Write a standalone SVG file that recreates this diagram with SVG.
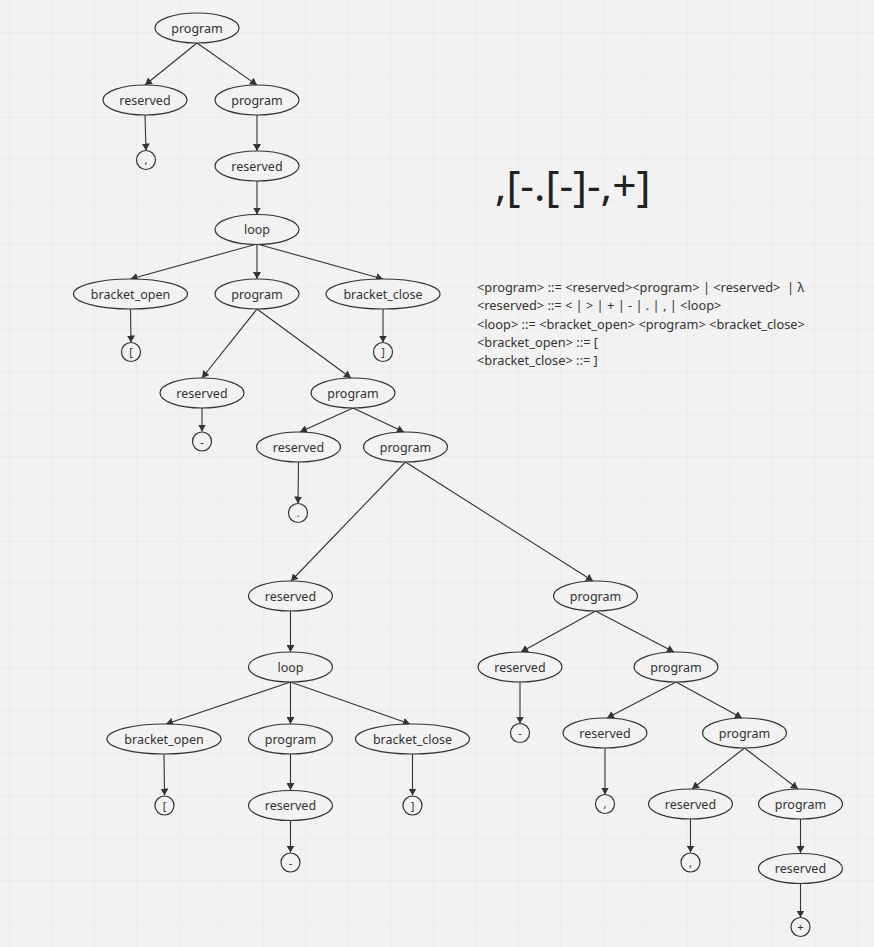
<svg xmlns="http://www.w3.org/2000/svg" width="874" height="947" viewBox="0 0 874 947">
<defs>
<pattern id="grid" x="8.8" y="32" width="42.4" height="42.4" patternUnits="userSpaceOnUse">
<path d="M0 0 V42.4 M0 0 H42.4" fill="none" stroke="#e4e4e4" stroke-width="1"/>
</pattern>
<marker id="arr" markerWidth="8" markerHeight="8" refX="7" refY="4" orient="auto" markerUnits="userSpaceOnUse">
<path d="M0 0 L7 4 L0 8 Z" fill="#333"/>
</marker>
<style>
.n ellipse,.n circle{fill:#f2f2f2;stroke:#333;stroke-width:1.2}
.n text{font-family:"Noto Sans","Open Sans",sans-serif;font-size:12.5px;fill:#333;text-anchor:middle}
.l text{font-size:11px}
#edges line{stroke:#333;stroke-width:1.1;marker-end:url(#arr)}
.t{font-family:"Noto Sans","Open Sans",sans-serif;fill:#222}
.g{font-family:"Noto Sans","Open Sans",sans-serif;font-size:12.8px;fill:#333;white-space:pre}
</style>
</defs>
<rect width="874" height="947" fill="#f2f2f2"/>
<rect width="874" height="947" fill="url(#grid)"/>
<g id="edges">
<line x1="197" y1="43" x2="145" y2="85"/>
<line x1="197" y1="43" x2="257" y2="85"/>
<line x1="145" y1="115" x2="146" y2="150.5"/>
<line x1="257" y1="115" x2="257" y2="151"/>
<line x1="257" y1="181" x2="257" y2="214.5"/>
<line x1="257" y1="244" x2="130.5" y2="279"/>
<line x1="257" y1="244" x2="257" y2="279"/>
<line x1="257" y1="244" x2="383" y2="279"/>
<line x1="130.5" y1="309" x2="131" y2="342.5"/>
<line x1="383" y1="309" x2="383" y2="342.5"/>
<line x1="257" y1="309" x2="202" y2="378"/>
<line x1="257" y1="309" x2="351" y2="378"/>
<line x1="202" y1="408" x2="202" y2="431.5"/>
<line x1="353" y1="408" x2="300" y2="432"/>
<line x1="353" y1="408" x2="404" y2="432"/>
<line x1="298.5" y1="462" x2="298" y2="503.5"/>
<line x1="405.5" y1="462" x2="291" y2="581"/>
<line x1="405.5" y1="462" x2="593" y2="581"/>
<line x1="290.5" y1="611" x2="290.5" y2="652"/>
<line x1="595.5" y1="611" x2="521" y2="652"/>
<line x1="595.5" y1="611" x2="674" y2="652"/>
<line x1="290.5" y1="682" x2="166" y2="724"/>
<line x1="290.5" y1="682" x2="290.5" y2="724"/>
<line x1="290.5" y1="682" x2="410" y2="724"/>
<line x1="164" y1="754" x2="164.5" y2="795.5"/>
<line x1="290.5" y1="754" x2="290.5" y2="790"/>
<line x1="412.5" y1="754" x2="412.5" y2="795.5"/>
<line x1="290.5" y1="820" x2="290.5" y2="852.5"/>
<line x1="520" y1="682" x2="520" y2="723.5"/>
<line x1="676" y1="682" x2="607" y2="718"/>
<line x1="676" y1="682" x2="742" y2="718"/>
<line x1="605" y1="748" x2="605" y2="794.5"/>
<line x1="744.5" y1="748" x2="692" y2="789"/>
<line x1="744.5" y1="748" x2="798" y2="789"/>
<line x1="690.5" y1="819" x2="690.5" y2="852.5"/>
<line x1="800.5" y1="819" x2="800.5" y2="853"/>
<line x1="800.5" y1="883" x2="800.5" y2="917.5"/>
</g>
<g id="n1" class="n"><ellipse cx="197" cy="28" rx="42" ry="15"/><text x="197" y="32.5">program</text></g>
<g id="n2" class="n"><ellipse cx="145" cy="100" rx="42" ry="15"/><text x="145" y="104.5">reserved</text></g>
<g id="n3" class="n"><ellipse cx="257" cy="100" rx="42" ry="15"/><text x="257" y="104.5">program</text></g>
<g id="n4" class="n l"><circle cx="146" cy="160" r="9.5"/><text x="146" y="164">,</text></g>
<g id="n5" class="n"><ellipse cx="257" cy="166" rx="42" ry="15"/><text x="257" y="170.5">reserved</text></g>
<g id="n6" class="n"><ellipse cx="257" cy="229.5" rx="42" ry="15"/><text x="257" y="234">loop</text></g>
<g id="n7" class="n"><ellipse cx="130.5" cy="294" rx="57" ry="15"/><text x="130.5" y="298.5">bracket_open</text></g>
<g id="n8" class="n"><ellipse cx="257" cy="294" rx="42" ry="15"/><text x="257" y="298.5">program</text></g>
<g id="n9" class="n"><ellipse cx="383" cy="294" rx="57" ry="15"/><text x="383" y="298.5">bracket_close</text></g>
<g id="n10" class="n l"><circle cx="131" cy="352" r="9.5"/><text x="131" y="356">[</text></g>
<g id="n11" class="n l"><circle cx="383" cy="352" r="9.5"/><text x="383" y="356">]</text></g>
<g id="n12" class="n"><ellipse cx="202" cy="393" rx="42" ry="15"/><text x="202" y="397.5">reserved</text></g>
<g id="n13" class="n"><ellipse cx="353" cy="393" rx="42" ry="15"/><text x="353" y="397.5">program</text></g>
<g id="n14" class="n l"><circle cx="202" cy="441.5" r="9.5"/><text x="202" y="445.5">-</text></g>
<g id="n15" class="n"><ellipse cx="298.5" cy="447" rx="42" ry="15"/><text x="298.5" y="451.5">reserved</text></g>
<g id="n16" class="n"><ellipse cx="405.5" cy="447" rx="42" ry="15"/><text x="405.5" y="451.5">program</text></g>
<g id="n17" class="n l"><circle cx="298" cy="513" r="9.5"/><text x="298" y="517">.</text></g>
<g id="n18" class="n"><ellipse cx="290.5" cy="596" rx="42" ry="15"/><text x="290.5" y="600.5">reserved</text></g>
<g id="n19" class="n"><ellipse cx="595.5" cy="596" rx="42" ry="15"/><text x="595.5" y="600.5">program</text></g>
<g id="n20" class="n"><ellipse cx="290.5" cy="667" rx="42" ry="15"/><text x="290.5" y="671.5">loop</text></g>
<g id="n21" class="n"><ellipse cx="520" cy="667" rx="42" ry="15"/><text x="520" y="671.5">reserved</text></g>
<g id="n22" class="n"><ellipse cx="676" cy="667" rx="42" ry="15"/><text x="676" y="671.5">program</text></g>
<g id="n23" class="n"><ellipse cx="164" cy="739" rx="57" ry="15"/><text x="164" y="743.5">bracket_open</text></g>
<g id="n24" class="n"><ellipse cx="290.5" cy="739" rx="42" ry="15"/><text x="290.5" y="743.5">program</text></g>
<g id="n25" class="n"><ellipse cx="412.5" cy="739" rx="57" ry="15"/><text x="412.5" y="743.5">bracket_close</text></g>
<g id="n26" class="n l"><circle cx="164.5" cy="805.5" r="9.5"/><text x="164.5" y="809.5">[</text></g>
<g id="n27" class="n"><ellipse cx="290.5" cy="805.5" rx="42" ry="15"/><text x="290.5" y="810">reserved</text></g>
<g id="n28" class="n l"><circle cx="412.5" cy="805.5" r="9.5"/><text x="412.5" y="809.5">]</text></g>
<g id="n29" class="n l"><circle cx="290.5" cy="862.5" r="9.5"/><text x="290.5" y="866.5">-</text></g>
<g id="n30" class="n l"><circle cx="520" cy="733" r="9.5"/><text x="520" y="737">-</text></g>
<g id="n31" class="n"><ellipse cx="605" cy="733" rx="42" ry="15"/><text x="605" y="737.5">reserved</text></g>
<g id="n32" class="n"><ellipse cx="744.5" cy="733" rx="42" ry="15"/><text x="744.5" y="737.5">program</text></g>
<g id="n33" class="n l"><circle cx="605" cy="804" r="9.5"/><text x="605" y="808">,</text></g>
<g id="n34" class="n"><ellipse cx="690.5" cy="804" rx="42" ry="15"/><text x="690.5" y="808.5">reserved</text></g>
<g id="n35" class="n"><ellipse cx="800.5" cy="804" rx="42" ry="15"/><text x="800.5" y="808.5">program</text></g>
<g id="n36" class="n l"><circle cx="690.5" cy="862.5" r="9.5"/><text x="690.5" y="866.5">,</text></g>
<g id="n37" class="n"><ellipse cx="800.5" cy="868.5" rx="42" ry="15"/><text x="800.5" y="873">reserved</text></g>
<g id="n38" class="n l"><circle cx="800.5" cy="927" r="9.5"/><text x="800.5" y="931">+</text></g>
<text class="t" x="495" y="201" font-size="42.5">,[-.[-]-,+]</text>
<g class="g">
<text x="477" y="291.5">&lt;program&gt; ::= &lt;reserved&gt;&lt;program&gt; | &lt;reserved&gt;&#160; | λ</text>
<text x="477" y="310">&lt;reserved&gt; ::= &lt; | &gt; | + | - | . | , | &lt;loop&gt;</text>
<text x="477" y="328.5">&lt;loop&gt; ::= &lt;bracket_open&gt; &lt;program&gt; &lt;bracket_close&gt;</text>
<text x="477" y="347">&lt;bracket_open&gt; ::= [</text>
<text x="477" y="365">&lt;bracket_close&gt; ::= ]</text>
</g>
</svg>
